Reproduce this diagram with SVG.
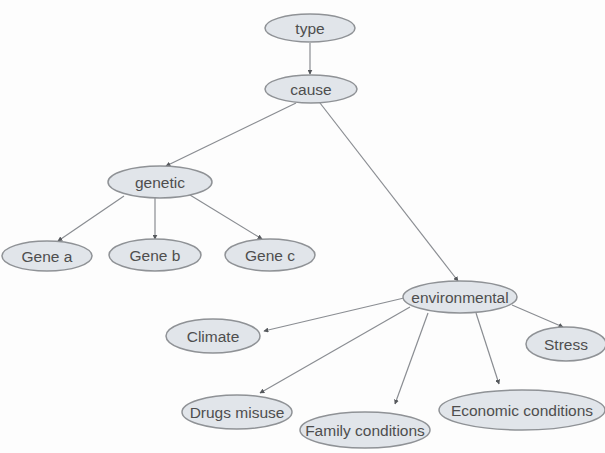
<svg xmlns="http://www.w3.org/2000/svg" width="605" height="453" viewBox="0 0 605 453">
<style>
.n ellipse{fill:#e1e5ea;stroke:#8f9296;stroke-width:1.5}
.n text{font-family:"Liberation Sans",Arial,sans-serif;font-size:15.5px;fill:#4e4e4e;text-anchor:middle;dominant-baseline:central}
.e line{stroke:#8a8d92;stroke-width:1.2;marker-end:url(#a)}
</style>
<defs>
<marker id="a" viewBox="0 0 8 8" refX="7" refY="4" markerWidth="5" markerHeight="5" orient="auto" markerUnits="userSpaceOnUse">
<path d="M0,0 L8,4 L0,8 z" fill="#55585c"/>
</marker>
</defs>
<rect width="605" height="453" fill="#fdfdfd"/>
<g class="e">
<line x1="310" y1="43" x2="310" y2="74"/>
<line x1="296" y1="103" x2="166" y2="166"/>
<line x1="320" y1="103" x2="458" y2="281"/>
<line x1="124" y1="196" x2="58" y2="241"/>
<line x1="155" y1="198" x2="155" y2="239"/>
<line x1="190" y1="195" x2="262" y2="239"/>
<line x1="404" y1="298" x2="264" y2="331"/>
<line x1="410" y1="307" x2="260" y2="393"/>
<line x1="428" y1="313" x2="395" y2="404"/>
<line x1="476" y1="313" x2="499" y2="384"/>
<line x1="512" y1="305" x2="563" y2="327"/>
</g>
<g id="type" class="n"><ellipse cx="310" cy="28" rx="45" ry="14"/><text x="310" y="28">type</text></g>
<g id="cause" class="n"><ellipse cx="311" cy="89" rx="46" ry="14"/><text x="311" y="89">cause</text></g>
<g id="genetic" class="n"><ellipse cx="160" cy="182" rx="52" ry="16"/><text x="160" y="182">genetic</text></g>
<g id="gene-a" class="n"><ellipse cx="47" cy="256" rx="45" ry="15"/><text x="47" y="256">Gene a</text></g>
<g id="gene-b" class="n"><ellipse cx="155" cy="255" rx="46" ry="16"/><text x="155" y="255">Gene b</text></g>
<g id="gene-c" class="n"><ellipse cx="270" cy="255" rx="45" ry="16"/><text x="270" y="255">Gene c</text></g>
<g id="environmental" class="n"><ellipse cx="460" cy="297" rx="57" ry="16"/><text x="460" y="297">environmental</text></g>
<g id="climate" class="n"><ellipse cx="213" cy="336" rx="47" ry="17"/><text x="213" y="336">Climate</text></g>
<g id="stress" class="n"><ellipse cx="566" cy="344" rx="40" ry="17"/><text x="566" y="344">Stress</text></g>
<g id="drugs" class="n"><ellipse cx="237" cy="412" rx="55" ry="17"/><text x="237" y="412">Drugs misuse</text></g>
<g id="family" class="n"><ellipse cx="365" cy="430" rx="65" ry="18"/><text x="365" y="430">Family conditions</text></g>
<g id="economic" class="n"><ellipse cx="522" cy="410" rx="83" ry="20"/><text x="522" y="410">Economic conditions</text></g>
</svg>
